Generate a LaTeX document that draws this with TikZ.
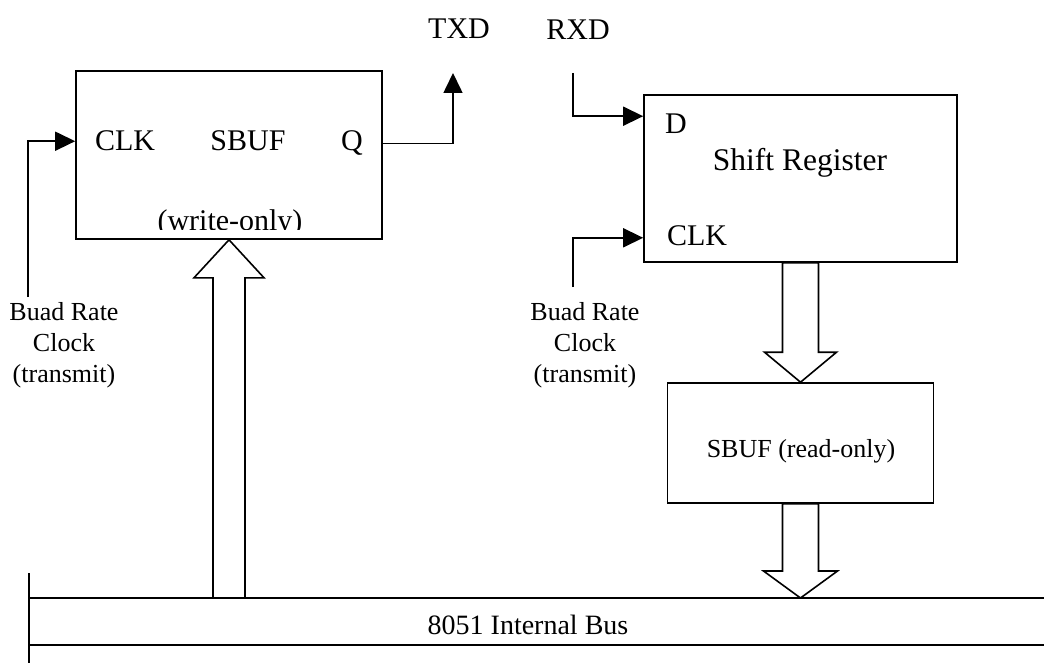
\documentclass[tikz,border=0pt]{standalone}
\usepackage{fontspec}
\setmainfont{Liberation Serif}
\usepackage{tikz}
\usetikzlibrary{arrows.meta, positioning, calc}

\tikzset{
  blk/.style={draw, line width=1.6pt, inner sep=0pt},
  lbl/.style={font=\fontsize{30}{34}\selectfont, inner sep=0pt},
  sml/.style={font=\fontsize{26}{31}\selectfont, inner sep=0pt, align=center},
  wire/.style={line width=1.6pt, -{Triangle[length=20pt,width=19pt]}},
  hollow/.style={line width=1.6pt, fill=white, line join=miter}
}

\begin{document}
\begin{tikzpicture}[x=1pt, y=-1pt]
\useasboundingbox (0,0) rectangle (1044,663);
% blocks
\node[blk, minimum width=306pt, minimum height=168pt] (sbufw) at (229,155) {};
\node[blk, minimum width=313pt, minimum height=167pt] (shreg) at (800.5,178.5) {};
\node[blk, minimum width=266pt, minimum height=120pt] (sbufr) at (800.5,443) {};
% texts in the write buffer
\node[lbl, anchor=base] (wclk) at (125,151) {CLK};
\node[lbl, anchor=base] (wname) at (248,151) {SBUF};
\node[lbl, anchor=base] (wq) at (352,151) {Q};
\begin{scope}
\clip ($(sbufw.south west)+(0,-10)$) rectangle (sbufw.north east);
\node[lbl, anchor=base] (wonly) at (230,231) {(write-only)};
\end{scope}
% texts in the shift register
\node[lbl, anchor=base] (sd) at (676,134) {D};
\node[lbl, anchor=base, font=\fontsize{31.5}{36}\selectfont] (sname) at (800,171) {Shift Register};
\node[lbl, anchor=base] (sclk) at (697,245) {CLK};
\node[sml, anchor=base] (rname) at (801,457) {SBUF (read-only)};
% pins
\node[lbl, anchor=base] (txd) at (459,39) {TXD};
\node[lbl, anchor=base] (rxd) at (578,40) {RXD};
\coordinate (txdpin) at (453,73);
\coordinate (rxdpin) at (573,73);
\coordinate (clkL) at (28,297);
\coordinate (clkR) at (573,287);
\node[sml, anchor=north] (baudL) at (64,302) {Buad Rate\\Clock\\(transmit)};
\node[sml, anchor=north] (baudR) at (585,302) {Buad Rate\\Clock\\(transmit)};
% wires
\draw[wire] (clkL) |- (sbufw.west |- wclk);
\draw[wire] (sbufw.east |- wq) -| (txdpin);
\draw[wire] (rxdpin) |- ($(shreg.north west)+(0,22)$);
\draw[wire] (clkR) |- ($(shreg.south west)+(0,-25)$);
% internal bus
\coordinate (busTL) at (29,598);
\coordinate (busBL) at (29,645);
\draw[line width=1.6pt] (busTL) -- (1044,598);
\draw[line width=1.6pt] (busBL) -- (1044,645);
\draw[line width=1.6pt] (29,573) -- (29,663);
\node[sml, anchor=base, font=\fontsize{28}{32}\selectfont] (bus) at (528,634) {8051 Internal Bus};
% block arrows
\draw[hollow] (sbufw.south) -- ++(35,38) -- ++(-19,0) -- ($(sbufw.south |- busTL)+(16,0)$)
  -- ($(sbufw.south |- busTL)+(-16,0)$) -- ($(sbufw.south)+(-16,38)$) -- ++(-19,0) -- cycle;
\draw[hollow] (sbufr.north) -- ++(-36,-30) -- ++(18,0) -- ($(shreg.south)+(-18,0)$)
  -- ($(shreg.south)+(18,0)$) -- ($(sbufr.north)+(18,-30)$) -- ++(18,0) -- cycle;
\draw[hollow] (sbufr.south |- busTL) -- ++(-37,-27) -- ++(19,0) -- ($(sbufr.south)+(-18,0)$)
  -- ($(sbufr.south)+(18,0)$) -- ($(sbufr.south |- busTL)+(18,-27)$) -- ++(19,0) -- cycle;
\end{tikzpicture}
\end{document}
